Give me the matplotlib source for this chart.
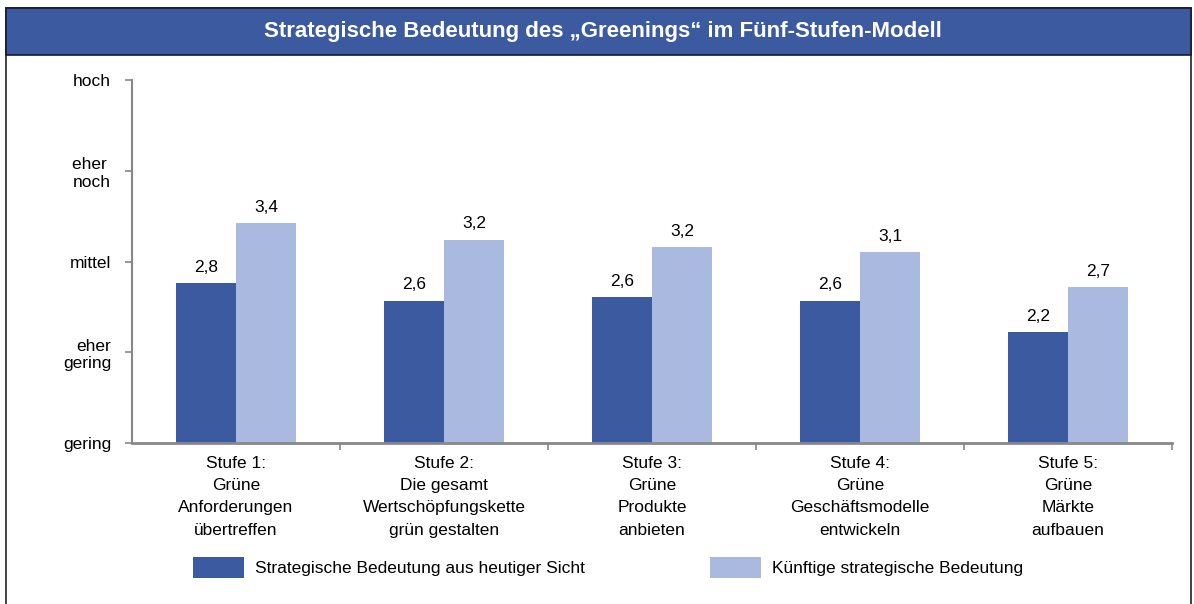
import matplotlib.pyplot as plt
from matplotlib.patches import Rectangle
import numpy as np

plt.rcParams['font.family'] = ['Liberation Sans', 'DejaVu Sans']

categories = [
    "Stufe 1:\nGrüne\nAnforderungen\nübertreffen",
    "Stufe 2:\nDie gesamt\nWertschöpfungskette\ngrün gestalten",
    "Stufe 3:\nGrüne\nProdukte\nanbieten",
    "Stufe 4:\nGrüne\nGeschäftsmodelle\nentwickeln",
    "Stufe 5:\nGrüne\nMärkte\naufbauen",
]
heute = [2.76, 2.57, 2.61, 2.57, 2.22]
kuenftig = [3.42, 3.24, 3.16, 3.10, 2.72]
y_levels = [1, 2, 3, 4, 5]
y_labels = ["gering", "eher\ngering", "mittel", "eher \nnoch", "hoch"]
series_names = ["Strategische Bedeutung aus heutiger Sicht", "Künftige strategische Bedeutung"]

dark = '#3B5AA0'
light = '#AAB9E0'
grey = '#888888'

W, H = 1194, 604
fig = plt.figure(figsize=(W / 100, H / 100), dpi=100)

# frame + title bar
fig.add_artist(Rectangle((6 / W, -0.01), (1191 - 6) / W, 1 - 8 / H + 0.01,
                         transform=fig.transFigure, fill=False, edgecolor='#222222', lw=1.2))
fig.add_artist(Rectangle((6 / W, 1 - 55 / H), (1191 - 6) / W, 47 / H,
                         transform=fig.transFigure, facecolor=dark, edgecolor='#1a1a2a', lw=1.2))
fig.text(0.505, 1 - 32 / H, "Strategische Bedeutung des „Greenings“ im Fünf-Stufen-Modell",
         color='white', fontsize=16, fontweight='bold', ha='center', va='center')

ax = fig.add_axes([132 / W, 1 - 443 / H, (1172 - 132) / W, (443 - 80) / H])
x = np.arange(len(categories))
w = 0.288
b1 = ax.bar(x - w / 2, heute, w, bottom=0, color=dark, label=series_names[0], zorder=2)
b2 = ax.bar(x + w / 2, kuenftig, w, bottom=0, color=light, label=series_names[1], zorder=2)

ax.bar_label(b1, labels=[f"{v:.1f}".replace('.', ',') for v in heute], padding=6, fontsize=12.5)
ax.bar_label(b2, labels=[f"{v:.1f}".replace('.', ',') for v in kuenftig], padding=6, fontsize=12.5)

ax.set_ylim(1, 5)
ax.set_xlim(-0.5, len(categories) - 0.5)
ax.set_yticks(y_levels)
ax.set_yticklabels(y_labels, fontsize=12.5, multialignment='right')
ax.set_xticks(x)
ax.set_xticklabels(categories, fontsize=12.5, linespacing=1.62)
ax.set_xticks(list(x + 0.5), minor=True)
ax.tick_params(axis='x', which='major', length=0, pad=9)
ax.tick_params(axis='x', which='minor', length=5, color=grey, width=1.2)
ax.tick_params(axis='y', length=5, color=grey, width=1.2, pad=10)

for s in ['top', 'right']:
    ax.spines[s].set_visible(False)
for s in ['left', 'bottom']:
    ax.spines[s].set_color(grey)
ax.spines['left'].set_linewidth(1.5)
ax.spines['bottom'].set_linewidth(2)

fig.legend(handles=[b1, b2], labels=series_names, ncol=2, frameon=False,
           loc='upper left', bbox_to_anchor=(193 / W, 1 - 557 / H),
           fontsize=12.5, handlelength=2.94, handleheight=1.45, handletextpad=0.63,
           columnspacing=7.2, borderpad=0, borderaxespad=0)

fig.savefig('out.png', dpi=100)
